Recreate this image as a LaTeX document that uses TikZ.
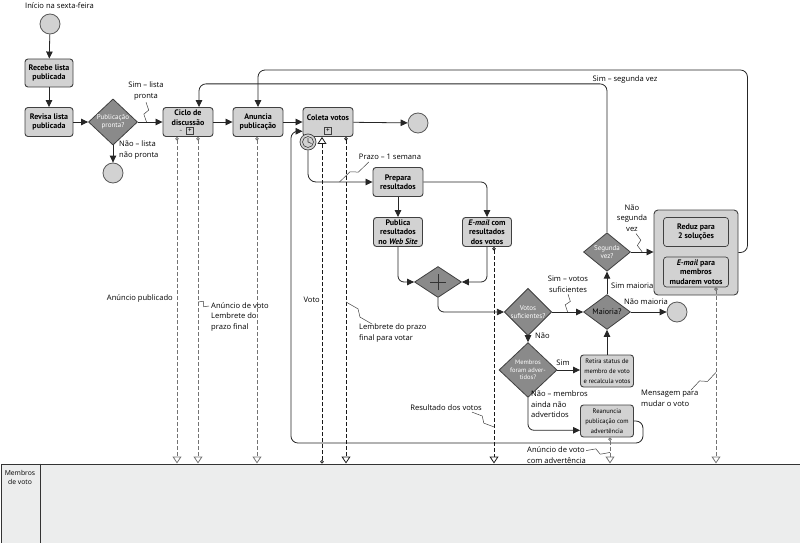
\documentclass[tikz,border=0pt]{standalone}
\usepackage{fontspec}
\setmainfont{PT Sans}
\newfontfamily\lblfont{Open Sans}
\usetikzlibrary{arrows.meta,shapes.geometric,calc}
\definecolor{boxfill}{HTML}{D2D2D2}
\definecolor{diafill}{HTML}{8A8A8A}
\definecolor{poolfill}{HTML}{ECEDED}
\begin{document}
\begin{tikzpicture}[x=1pt,y=-1pt,
  task/.style={draw=black!75, fill=boxfill, rounded corners=3pt, line width=0.9pt, align=center,
     font=\fontsize{8}{9.5}\selectfont\bfseries, inner sep=1pt, minimum width=50pt, minimum height=29pt},
  smalltask/.style={draw=black!75, fill=boxfill, rounded corners=3pt, line width=0.9pt, align=center,
     font=\fontsize{6.5}{10}\selectfont, inner sep=1pt, minimum width=53pt, minimum height=32pt},
  gate/.style={diamond, draw=black!75, fill=diafill, line width=0.8pt, inner sep=0pt,
     minimum width=47pt, minimum height=31pt, align=center, font=\fontsize{7}{7.6}\selectfont, text=white},
  evt/.style={circle, draw=black!65, fill=boxfill, line width=0.8pt, minimum size=20pt, inner sep=0pt},
  flow/.style={draw=black!85, line width=0.8pt, -{Triangle[length=7pt,width=6.5pt]}},
  msgg/.style={draw=black!55, line width=0.8pt, dash pattern=on 4pt off 2pt,
     {Circle[open,length=3.5pt,width=3.5pt]}-{Triangle[open,length=7pt,width=9pt]}},
  msgk/.style={msgg, draw=black!90},
  lbl/.style={font=\lblfont\fontsize{7.6}{10.5}\selectfont, inner sep=0pt, align=left},
  pmark/.style={draw=black!75, fill=boxfill, line width=0.5pt, minimum size=7pt, inner sep=0pt, font=\fontsize{7}{7}\selectfont},
  zig/.style={draw=black!75, line width=0.5pt,
     to path={-- ($(\tikztostart)!0.40!(\tikztotarget)!2.5pt!90:(\tikztotarget)$)
              -- ($(\tikztostart)!0.60!(\tikztotarget)!2.5pt!-90:(\tikztotarget)$) -- (\tikztotarget)}},
]
\useasboundingbox (0,0) rectangle (800,543);

% pool
\node[draw=black!80, fill=poolfill, line width=1pt, minimum width=799pt, minimum height=79pt,
      inner sep=0pt, anchor=north west] (pool) at (0.5,463.5) {};
\draw[black!80, line width=0.8pt] ([xshift=40pt]pool.north west) -- ([xshift=40pt]pool.south west);
\node[font=\lblfont\fontsize{6.8}{9}\selectfont, align=center, inner sep=0pt] (poollbl) at (20,477) {Membros\\de voto};

% start
\node[lbl, anchor=west] (tstart) at (25,6) {Início na sexta-feira};
\node[evt] (s0) at (50,24) {};
\node[task, minimum width=48pt, minimum height=28pt] (recebe) at (49,73) {Recebe lista\\publicada};
\node[task, minimum width=48pt] (revisa) at (49,122) {Revisa lista\\publicada};
\node[gate, minimum width=49pt, minimum height=39pt] (g1) at (113,122) {Publicação\\pronta?};
\node[evt] (e1) at (113,173) {};
\node[task] (ciclo) at (188,122) {Ciclo de\\discussão\\[-1pt]\phantom{x}};
\node[task] (anuncia) at (258,122) {Anuncia\\publicação};
\node[task] (coleta) at (328,122) {Coleta votos\\[0pt]\phantom{x}};
\node[evt] (e2) at (418,123) {};
\node[pmark] (cm1) at (190,131) {+};
\node[font=\fontsize{5}{5}\selectfont, inner sep=0pt] (cm0) at (181,131) {\textasciitilde};
\node[pmark] (cm2) at (328,131) {+};
\node[circle, draw=black!75, fill=boxfill, minimum size=16pt, inner sep=0pt, line width=0.7pt] (timer) at (308,142) {};
\draw[black!75, line width=0.6pt] (timer.center) circle (5.5pt);
\draw[black!75, line width=0.6pt] (timer.center) -- ++(0,-4) (timer.center) -- ++(3.5,1.5);

\node[task] (prepara) at (398,182) {Prepara\\resultados};
\node[task, minimum width=49pt] (publica) at (398,232) {Publica\\resultados\\no \textit{Web Site}};
\node[task, minimum width=49pt] (email1) at (487,232) {\textit{E-mail} com\\resultados\\dos votos};
\node[gate] (par) at (438,282) {};
\draw[black!80, line width=0.5pt] ([xshift=-8pt]par.center) -- ([xshift=8pt]par.center)
      ([yshift=-8pt]par.center) -- ([yshift=8pt]par.center);
\node[gate] (votos) at (528,312) {Votos\\suficientes?};
\node[gate, text=black, font=\fontsize{8}{9}\selectfont] (maioria) at (607,312) {Maioria?};
\node[evt] (e3) at (677,312) {};
\node[gate] (segunda) at (607,252) {Segunda\\vez?};
\node[draw=black!75, fill=boxfill, rounded corners=4pt, line width=0.9pt, minimum width=84pt,
      minimum height=85pt, inner sep=0pt] (sub) at (696,252.5) {};
\node[task, minimum width=65pt, line width=0.7pt] (reduz) at (696,232) {Reduz para\\2 soluções};
\node[task, minimum width=65pt, minimum height=30pt, line width=0.7pt] (email2) at (696,272) {\textit{E-mail} para\\membros\\mudarem votos};
\node[gate, minimum width=58pt, minimum height=36pt, font=\fontsize{6.5}{7.3}\selectfont] (membros) at (528,370) {Membros\\foram adver-\\tidos?};
\node[smalltask] (retira) at (607,371) {Retira status de\\membro de voto\\e recalcula votos};
\node[smalltask] (reanuncia) at (607,421) {Reanuncia\\publicação com\\advertência};

% sequence flows
\draw[flow] (s0) -- (recebe);
\draw[flow] (recebe) -- (revisa);
\draw[flow] (revisa) -- (g1);
\draw[flow] (g1) -- (ciclo);
\draw[flow] (g1) -- (e1);
\draw[flow] (ciclo) -- (anuncia);
\draw[flow] (anuncia) -- (coleta);
\draw[flow] (coleta) -- (e2);
\draw[flow, rounded corners=8pt] (timer.south) |- (prepara.west);
\draw[flow] (prepara) -- (publica);
\draw[flow, rounded corners=6pt] (prepara.east) -| (email1.north);
\draw[flow, rounded corners=6pt] (publica.south) |- (par.west);
\draw[flow, rounded corners=6pt] (email1.south) |- (par.east);
\draw[flow, rounded corners=6pt] (par.south) |- (votos.west);
\draw[flow] (votos) -- (maioria);
\draw[flow] (maioria) -- (e3);
\draw[flow] (maioria) -- (segunda);
\draw[flow] (segunda.east) -- (segunda.east -| sub.west);
\draw[flow, rounded corners=7pt] (segunda.north) -- ++(0,-148.5) -| ([xshift=11pt]ciclo.north);
\draw[flow, rounded corners=7pt] (sub.east) -- ++(9,0) -- ++(0,-182.5) -| (anuncia.north);
\draw[flow] (votos) -- (membros);
\draw[flow] (membros.east) -- (membros.east -| retira.west);
\draw[flow] (retira) -- (maioria);
\draw[flow, rounded corners=6pt] (membros.south) |- (reanuncia.199);
\draw[flow, rounded corners=7pt] (reanuncia.east) -- ++(9,0) -- ++(0,22) -- ++(-352,0) |- (coleta.200);

% message flows
\coordinate (m1) at ([xshift=-11pt]ciclo.south);
\coordinate (m2) at ([xshift=10pt]ciclo.south);
\coordinate (m3) at ([xshift=-1pt]anuncia.south);
\coordinate (m4) at ([xshift=-6pt]coleta.south);
\coordinate (m5) at ([xshift=18pt]coleta.south);
\coordinate (m6) at ([xshift=7pt]email1.south);
\coordinate (m7) at ([xshift=3pt]reanuncia.south);
\coordinate (m8) at ([xshift=20pt]email2.south);
\draw[msgg] (m1) -- (m1 |- pool.north);
\draw[msgg] (m2) -- (m2 |- pool.north);
\draw[msgg] (m3) -- (m3 |- pool.north);
\draw[msgk] (m4 |- pool.north) -- (m4);
\draw[msgk] (m5) -- (m5 |- pool.north);
\draw[msgk] (m6) -- (m6 |- pool.north);
\draw[msgg] (m7) -- (m7 |- pool.north);
\draw[msgg] (m8) -- (m8 |- pool.north);

% labels
\node[lbl, align=center] (lsim) at (146,91) {Sim – lista\\pronta};
\coordinate (z1) at ($(g1.east)!0.35!(ciclo.west)$);
\draw[zig] ([yshift=-2pt]lsim.south) to (z1);
\node[lbl, anchor=north west] (lnao) at (119,141) {Não – lista\\não pronta};
\node[lbl] (lprazo) at (390,157) {Prazo – 1 semana};
\coordinate (z2) at ([xshift=-33pt]prepara.west);
\draw[zig] ([xshift=10pt,yshift=-2pt]lprazo.south west) to (z2);
\node[lbl, align=center] (lvs) at (568,284) {Sim – votos\\suficientes};
\coordinate (z3) at ($(votos.east)!0.5!(maioria.west)$);
\draw[zig] ([yshift=-2pt]lvs.south) to (z3);
\node[lbl, anchor=west] (lnm) at (624,302) {Não maioria};
\node[lbl, anchor=west] (lsm) at (611,286) {Sim maioria};
\node[lbl, align=center] (lnsv) at (632,218) {Não\\segunda\\vez};
\coordinate (z4) at ($(segunda.east)!0.5!(segunda.east -| sub.west)$);
\draw[zig] ([xshift=4pt,yshift=-2pt]lnsv.south) to (z4);
\node[lbl] (lssv) at (625,80) {Sim – segunda vez};
\node[lbl, anchor=west] (lnao2) at (535,336) {Não};
\node[lbl] (lsim2) at (563,363) {Sim};
\node[lbl, anchor=north west] (lnma) at (531,391) {Não – membros\\ainda não\\advertidos};

\node[lbl, anchor=east] (lap) at (173,298) {Anúncio publicado};
\node[lbl, anchor=north west] (lav) at (211,302) {Anúncio de voto\\Lembrete do\\prazo final};
\coordinate (z5) at (m2 |- lav.north);
\draw[zig] ([xshift=-2pt,yshift=-4pt]lav.north west) to (z5);
\node[lbl, anchor=east] (lvoto) at (320,300) {Voto};
\node[lbl, anchor=north west] (llpf) at (359,324) {Lembrete do prazo\\final para votar};
\coordinate (z6) at ([yshift=-165pt]m5);
\draw[zig] ([xshift=13pt]llpf.north west) to (z6);
\node[lbl, anchor=east] (lres) at (482,408) {Resultado dos votos};
\coordinate (z7) at ([yshift=-180pt]m6);
\draw[zig] ([xshift=-10pt,yshift=-1pt]lres.south east) to (z7);
\node[lbl, anchor=west] (ladv) at (527,455) {Anúncio de voto\\com advertência};
\coordinate (z8) at ([yshift=-15pt]m7);
\draw[zig] ([yshift=-4pt]ladv.north east) to (z8);
\node[lbl, anchor=north west] (lmsg) at (641,390) {Mensagem para\\mudar o voto};
\coordinate (z9) at ([yshift=-85pt]m8);
\draw[zig] ([xshift=50pt]lmsg.north west) to (z9);
\end{tikzpicture}
\end{document}
